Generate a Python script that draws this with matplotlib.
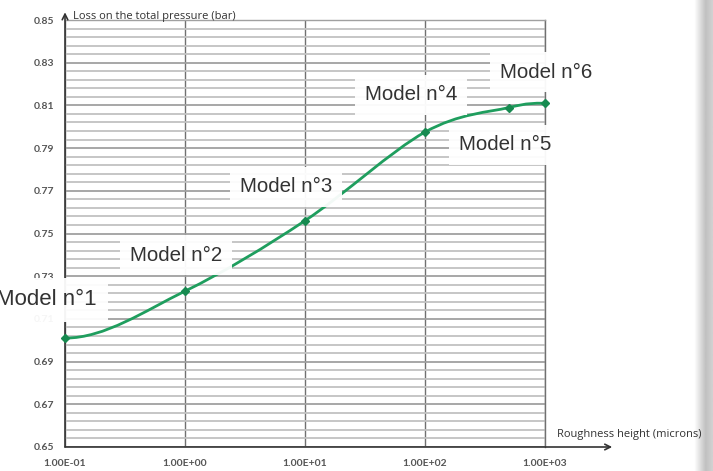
import numpy as np
import matplotlib
matplotlib.use("Agg")
import matplotlib.pyplot as plt
from matplotlib.path import Path
from matplotlib.patches import PathPatch

# Roughness height (microns) and loss on total pressure (bar) per model
roughness = [0.1, 1.0, 10.0, 100.0, 500.0, 1000.0]
pressure_loss = [0.701, 0.723, 0.756, 0.7975, 0.809, 0.811]
model_labels = ["Model n°1", "Model n°2", "Model n°3", "Model n°4", "Model n°5", "Model n°6"]

x_ticks = [0.1, 1.0, 10.0, 100.0, 1000.0]
x_tick_labels = ["1.00E-01", "1.00E+00", "1.00E+01", "1.00E+02", "1.00E+03"]
y_ticks = [0.65, 0.67, 0.69, 0.71, 0.73, 0.75, 0.77, 0.79, 0.81, 0.83, 0.85]
y_tick_labels = ["0.65", "0.67", "0.69", "0.71", "0.73", "0.75", "0.77", "0.79", "0.81", "0.83", "0.85"]

W, H = 713, 471
fig = plt.figure(figsize=(W / 100, H / 100), dpi=100)
fig.patch.set_facecolor("white")

# plot area in pixels
x0, x1, y0, y1 = 65, 545, 20, 447
ax = fig.add_axes([x0 / W, 1 - y1 / H, (x1 - x0) / W, (y1 - y0) / H])
ax.set_xscale("log")
ax.set_xlim(0.1, 1000)
ax.set_ylim(0.65, 0.85)

# grid
ax.set_yticks(y_ticks)
ax.set_yticks(np.arange(0.654, 0.85, 0.004), minor=True)
ax.set_xticks(x_ticks)
ax.xaxis.set_minor_locator(matplotlib.ticker.NullLocator())
ax.grid(True, which="minor", axis="y", color="#c2c2c2", lw=1.3)
ax.grid(True, which="major", axis="y", color="#a0a0a0", lw=1.3)
ax.grid(True, which="major", axis="x", color="#707070", lw=1.0)
ax.set_axisbelow(True)

tick_font = dict(fontsize=7.5, color="#555555", family="Lato", fontweight="bold")
ax.set_yticklabels(y_tick_labels, **tick_font)
ax.set_xticklabels(x_tick_labels, **tick_font)
ax.tick_params(axis="both", which="both", length=0)
ax.tick_params(axis="y", pad=8)
ax.tick_params(axis="x", pad=9)

for side in ("top", "right"):
    ax.spines[side].set_color("#a0a0a0")
    ax.spines[side].set_linewidth(1.0)
ax.spines["right"].set_color("#707070")
for side in ("left", "bottom"):
    ax.spines[side].set_visible(False)

# axis arrows
arrow_kw = dict(arrowstyle="->", color="#333333", lw=1.2, shrinkA=0, shrinkB=0)
ax.annotate("", xy=(0, 1.018), xytext=(0, 0), xycoords="axes fraction",
            textcoords="axes fraction", arrowprops=arrow_kw, annotation_clip=False)
ax.annotate("", xy=(1.14, 0), xytext=(0, 0), xycoords="axes fraction",
            textcoords="axes fraction", arrowprops=arrow_kw, annotation_clip=False)

# smoothed curve: cubic Bezier segments in (log x, y), flat at the ends
lx = np.log10(roughness)
ly = np.array(pressure_loss)
pts = np.column_stack([lx, ly])
n = len(pts)
verts = [pts[0]]
codes = [Path.MOVETO]
for i in range(n - 1):
    p1 = pts[i]
    p2 = pts[i + 1]
    if i > 0:
        c1 = p1 + (p2 - pts[i - 1]) / 6.0
    else:
        c1 = p1 + np.array([(p2[0] - p1[0]) / 3.0, 0.0])
    if i + 2 < n:
        c2 = p2 - (pts[i + 2] - p1) / 6.0
    else:
        c2 = p2 - np.array([(p2[0] - p1[0]) / 3.0, 0.0])
    verts += [c1, c2, p2]
    codes += [Path.CURVE4] * 3
verts = np.array(verts)
verts[:, 0] = 10 ** verts[:, 0]
curve = PathPatch(Path(verts, codes), facecolor="none", edgecolor="#1f9e5e", lw=2.0, zorder=3)
ax.add_patch(curve)
ax.plot(roughness, pressure_loss, linestyle="none", marker="D", ms=4,
        color="#178a50", zorder=4, clip_on=False)

# model labels
label_pos = [(0.185, 0.7189, "right"), (0.84, 0.7399, "center"), (6.95, 0.7718, "center"),
             (76.4, 0.8149, "center"), (464, 0.7915, "center"), (1019, 0.8256, "center")]
for (lxp, lyp, ha), text in zip(label_pos, model_labels):
    size = 16 if ha == "right" else 14.8
    ax.text(lxp, lyp, text, ha=ha, va="center", fontsize=size, family="Liberation Sans",
            color="#333333", zorder=5, clip_on=False,
            bbox=dict(boxstyle="square,pad=0.5", facecolor="white", edgecolor="none", alpha=0.95))

# axis titles
fig.text(73 / W, 1 - 16 / H, "Loss on the total pressure (bar)", ha="left", va="center",
         fontsize=8, family="Open Sans", color="#333333")
fig.text(557 / W, 1 - 434 / H, "Roughness height (microns)", ha="left", va="center",
         fontsize=8, family="Open Sans", color="#333333")

# soft grey page edge on the right
edge = fig.add_axes([694 / W, 0, 19 / W, 1])
grad = np.concatenate([np.linspace(1.0, 0.76, 12), np.linspace(0.76, 0.82, 7)])
edge.imshow(grad[None, :], cmap="gray", vmin=0, vmax=1, aspect="auto", interpolation="bilinear")
edge.set_axis_off()

fig.savefig("out.png", dpi=100)
